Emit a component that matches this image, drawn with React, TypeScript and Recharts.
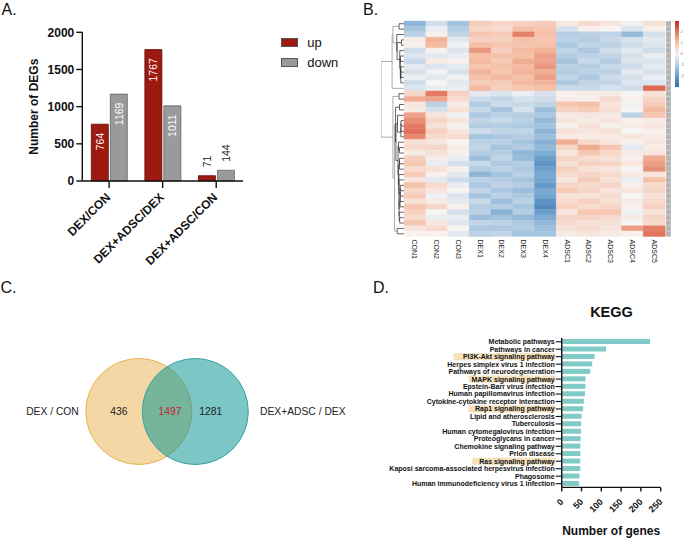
import React from 'react';
import {
  BarChart, Bar, XAxis, YAxis, Cell, LabelList, Legend, Label,
  ScatterChart, Scatter, ReferenceLine,
} from 'recharts';

// ---------------- Panel A data ----------------
const degComparisons = ['DEX/CON', 'DEX+ADSC/DEX', 'DEX+ADSC/CON'];
const degUp = [764, 1767, 71];
const degDown = [1169, 1011, 144];
const degTicks = [0, 500, 1000, 1500, 2000];
const degSeries = ['up', 'down'];

// ---------------- Panel B data (z-scores, rows top -> bottom) ----------------
const heatSamples = ['CON1', 'CON2', 'CON3', 'DEX1', 'DEX2', 'DEX3', 'DEX4', 'ADSC1', 'ADSC2', 'ADSC3', 'ADSC4', 'ADSC5'];
const heatCON1 = [-1.5, -1.2, -0.9, 0.2, 0.1, -0.6, -0.4, -0.7, -0.3, -0.5, -0.2, -0.6, -0.4,
  0.6, 1.3, 0.3, 0.2, 1.4, 1.7, 2.0, 2.1, 1.8, 0.4, 0.5, 0.2,
  0.7, 0.9, 0.5, 0.8, 0.3, 1.0, 0.6, 0.8, 0.4, 0.9, 0.7, 0.5, 0.9, 0.3, 0.1];
const heatCON2 = [-0.6, -0.2, 0.1, 1.2, 1.1, 0.1, -0.3, 0.2, -0.4, -0.1, -0.3, 0.0, -0.2,
  2.0, 1.4, -0.9, -0.5, 0.3, 0.6, 0.4, 0.7, 0.5, 0.3, 0.6, 0.4,
  0.2, -0.2, 0.4, 0.1, -0.3, 0.5, 0.3, -0.1, 0.2, 0.6, 0.0, -0.2, 0.3, 0.5, 0.1];
const heatCON3 = [-1.2, -1.0, -0.8, -0.3, -0.1, -0.4, -0.2, 0.1, -0.3, -0.5, -0.1, -0.3, -0.2,
  0.7, 0.5, 0.2, 0.4, -0.1, 0.3, 0.1, 0.3, 0.5, 0.0, 0.2, 0.1,
  -0.2, -0.5, 0.1, -0.3, -0.6, -0.2, 0.0, -0.4, -0.3, 0.1, -0.5, -0.2, -0.4, 0.0, -0.3];
const heatDEX1 = [0.8, 0.6, 0.9, 0.7, 1.0, 1.6, 1.0, 1.1, 0.9, 1.2, 1.0, 0.8, 1.1,
  -0.3, -0.6, -1.0, -0.7, -1.1, -0.8, -1.0, -0.6, -1.2, -0.9, -0.8, -1.0, -1.3, -0.7, -1.0,
  -1.5, -0.9, -1.1, -0.8, -1.2, -0.7, -1.0, -0.9, -1.3, -0.8, -1.1, -0.9];
const heatDEX2 = [0.6, 0.5, 0.8, 0.7, 0.9, 0.7, 1.0, 0.8, 1.0, 0.9, 1.1, 0.8, 0.7,
  -0.4, -0.8, -0.6, -1.2, -0.9, -0.7, -1.0, -0.8, -1.1, -0.9, -1.2, -1.0, -0.8, -1.1, -0.9,
  -1.2, -1.0, -0.8, -1.1, -0.9, -1.3, -1.0, -1.6, -1.2, -0.9, -1.1, -0.8];
const heatDEX3 = [0.7, 1.0, 1.9, 1.0, 0.9, 1.1, 1.0, 1.3, 1.1, 1.2, 1.0, 1.1, 0.9,
  -0.2, -0.5, -0.7, -0.5, -1.0, -0.9, -1.1, -0.8, -1.0, -1.2, -1.0, -1.5, -1.4, -1.0, -1.1,
  -0.9, -1.2, -1.0, -1.3, -1.1, -0.9, -1.2, -1.0, -1.4, -1.1, -1.0, -1.2];
const heatDEX4 = [0.8, 0.9, 1.0, 0.9, 1.0, 1.2, 1.5, 1.4, 1.6, 1.3, 1.5, 1.2, 1.0,
  -0.5, -0.6, -0.8, -1.3, -1.1, -1.4, -1.2, -1.5, -1.3, -1.6, -1.4, -1.7, -2.0, -2.2, -2.0,
  -1.8, -1.9, -2.1, -1.8, -1.9, -2.2, -2.4, -2.0, -1.7, -1.5, -1.3, -1.2];
const heatADSC1 = [0.2, -0.5, -1.0, -0.9, -1.1, -0.8, -1.0, -1.2, -0.9, -1.0, -0.8, -1.1, -0.7,
  0.1, 0.2, 0.9, 0.7, 0.2, 0.3, 0.1, 0.4, 0.2, 1.3, 0.6, 0.3,
  0.6, 0.4, 0.7, 0.5, 0.3, 0.6, 0.8, 0.4, 0.5, 0.7, 0.3, 0.6, 0.5, 0.4, 0.2];
const heatADSC2 = [0.5, 0.1, -0.9, -1.0, -0.8, -1.1, -0.9, -0.7, -1.0, -0.9, -1.1, -0.8, -0.7,
  0.2, 0.1, 1.0, 0.8, 0.3, 0.2, 0.4, 0.3, 0.2, 0.5, 1.3, 0.9,
  0.5, 0.7, 0.4, 0.6, 0.8, 0.5, 0.6, 0.4, 0.7, 0.5, 0.9, 0.6, 0.4, 0.5, 0.3];
const heatADSC3 = [0.3, 0.0, -0.8, -0.7, -0.9, -0.6, -0.8, -1.0, -0.7, -0.9, -0.6, -0.8, -0.5,
  0.2, 0.5, 0.3, 0.4, 0.2, 0.3, 0.1, 0.4, 0.2, 0.3, 0.9, 0.6,
  0.4, 0.6, 0.3, 0.5, 0.4, 0.6, 0.3, 0.5, 0.4, 0.6, 0.9, 0.5, 0.4, 0.3, 0.2];
const heatADSC4 = [-0.1, -0.4, -1.4, -0.5, -0.6, -0.3, -0.5, -0.4, -0.6, -0.3, -0.5, -0.4, -0.6,
  0.0, 0.1, -0.1, 0.0, -0.9, 0.1, 0.2, 0.0, 0.3, 0.1, -0.3, 0.2,
  0.1, 0.3, 0.0, 0.2, -0.2, 0.1, 0.3, 0.0, 0.2, 0.1, -0.1, 0.2, 0.0, 1.5, 0.1];
const heatADSC5 = [0.4, 0.1, -0.5, -0.3, -0.4, -0.6, -0.2, -0.4, -0.3, -0.5, -0.2, -0.4, 2.2,
  0.4, 0.6, 0.8, 1.1, 0.9, 0.2, 0.3, 0.1, 0.2, 0.3, 0.2, 0.3,
  1.3, 1.5, 1.7, 0.3, 1.0, 0.5, 0.6, 0.4, 0.5, 0.7, 0.4, 0.6, 0.5, 1.9, 2.1];
const heatColumns = [heatCON1, heatCON2, heatCON3, heatDEX1, heatDEX2, heatDEX3, heatDEX4,
  heatADSC1, heatADSC2, heatADSC3, heatADSC4, heatADSC5];
const heatScaleTicks = [-2, -1, 0, 1, 2];
const heatScaleRange: [number, number] = [-3, 3];

// ---------------- Panel C data ----------------
const vennSetNames = ['DEX / CON', 'DEX+ADSC / DEX'];
const vennOnly = [436, 1281];
const vennShared = 1497;

// ---------------- Panel D data ----------------
const keggTerms = [
  'Metabolic pathways', 'Pathways in cancer', 'PI3K-Akt signaling pathway',
  'Herpes simplex virus 1 infection', 'Pathways of neurodegeneration', 'MAPK signaling pathway',
  'Epstein-Barr virus infection', 'Human papillomavirus infection',
  'Cytokine-cytokine receptor interaction', 'Rap1 signaling pathway', 'Lipid and atherosclerosis',
  'Tuberculosis', 'Human cytomegalovirus infection', 'Proteoglycans in cancer',
  'Chemokine signaling pathway', 'Prion disease', 'Ras signaling pathway',
  'Kaposi sarcoma-associated herpesvirus infection', 'Phagosome',
  'Human immunodeficiency virus 1 infection',
];
const keggGenes = [223, 112, 83, 77, 72, 60, 60, 59, 56, 54, 50, 49, 49, 48, 47, 47, 47, 47, 45, 44];
const keggHighlighted = ['PI3K-Akt signaling pathway', 'MAPK signaling pathway', 'Rap1 signaling pathway', 'Ras signaling pathway'];
const keggTicks = [0, 50, 100, 150, 200, 250];

// ---------------- helpers / styles ----------------
const FONT = "'Liberation Sans', Arial, Helvetica, sans-serif";
const AXIS = { stroke: '#111', strokeWidth: 1.4 };

const heatStops: [number, string][] = [
  [-3, '#2e6aad'], [-2, '#6a9fcc'], [-1, '#b4cde3'], [0, '#f7f5f4'],
  [1, '#f6c1a9'], [2, '#e47a62'], [3, '#c22a2c'],
];
const hexToRgb = (h: string) => [1, 3, 5].map((k) => parseInt(h.slice(k, k + 2), 16));
const heatColor = (v: number) => {
  const t = Math.max(heatStops[0][0], Math.min(heatStops[heatStops.length - 1][0], v));
  for (let k = 0; k < heatStops.length - 1; k++) {
    const [a, ca] = heatStops[k];
    const [b, cb] = heatStops[k + 1];
    if (t >= a && t <= b) {
      const f = (t - a) / (b - a);
      const A = hexToRgb(ca), B = hexToRgb(cb);
      const c = A.map((x, i) => Math.round(x + (B[i] - x) * f));
      return `rgb(${c[0]},${c[1]},${c[2]})`;
    }
  }
  return heatStops[3][1];
};

const nRows = heatCON1.length;
const rowKeys = heatCON1.map((_, i) => `r${i}`);
const heatData = heatSamples.map((name) => {
  const o: any = { name };
  rowKeys.forEach((k) => { o[k] = 1; });
  return o;
});
const stripData = [(() => { const o: any = { name: 'genes' }; rowKeys.forEach((k) => { o[k] = 1; }); return o; })()];

// adjacency-constrained average-linkage clustering of heatmap rows -> dendrogram segments
const buildDendrogram = () => {
  const vecs = heatCON1.map((_, i) => heatColumns.map((c) => c[i]));
  const dist = (a: number[], b: number[]) => Math.sqrt(a.reduce((s, v, k) => s + (v - b[k]) ** 2, 0));
  let clusters = vecs.map((_, i) => ({ members: [i], y: i + 0.5, h: 0 }));
  const merges: { ay: number; ah: number; by: number; bh: number; h: number }[] = [];
  while (clusters.length > 1) {
    let best = 0, bestD = Infinity;
    for (let k = 0; k < clusters.length - 1; k++) {
      const A = clusters[k], B = clusters[k + 1];
      let s = 0;
      A.members.forEach((i) => B.members.forEach((j) => { s += dist(vecs[i], vecs[j]); }));
      const avg = s / (A.members.length * B.members.length);
      if (avg < bestD) { bestD = avg; best = k; }
    }
    const A = clusters[best], B = clusters[best + 1];
    const h = Math.max(bestD, A.h, B.h);
    merges.push({ ay: A.y, ah: A.h, by: B.y, bh: B.h, h });
    clusters = [...clusters.slice(0, best), { members: [...A.members, ...B.members], y: (A.y + B.y) / 2, h }, ...clusters.slice(best + 2)];
  }
  const root = clusters[0].h || 1;
  const sc = (v: number) => (v / root) * 10;
  const segs: { x1: number; y1: number; x2: number; y2: number }[] = [];
  merges.forEach((m) => {
    segs.push({ x1: sc(m.ah), y1: m.ay, x2: sc(m.h), y2: m.ay });
    segs.push({ x1: sc(m.h), y1: m.ay, x2: sc(m.h), y2: m.by });
    segs.push({ x1: sc(m.bh), y1: m.by, x2: sc(m.h), y2: m.by });
  });
  return segs;
};
const dendroSegs = buildDendrogram();
const leafPoints = heatCON1.map((_, i) => ({ h: 0, y: i + 0.5 }));

const degData = degComparisons.map((name, i) => ({ name, up: degUp[i], down: degDown[i] }));
const keggData = keggTerms.map((term, i) => ({ term, genes: keggGenes[i] }));

const AngledTick = (props: any) => {
  const { x, y, payload, fontSize, dx = 2, dy = 10 } = props;
  const ax = Number(x) + dx, ay = Number(y) + dy;
  return (
    <text x={ax} y={ay} textAnchor="end" fontSize={fontSize} fontWeight={700} fill="#111"
      transform={`rotate(-45, ${ax}, ${ay})`}>{payload.value}</text>
  );
};

const DegLabel = (props: any) => {
  const { x, y, width, value } = props;
  const inside = value > 500;
  const cx = Number(x) + Number(width) / 2;
  const ty = inside ? Number(y) + 8.5 : Number(y) - 8.5;
  return (
    <text x={cx} y={ty} transform={`rotate(-90, ${cx}, ${ty})`} textAnchor={inside ? 'end' : 'start'}
      dominantBaseline="central" fontSize={10.5} fill={inside ? '#ffffff' : '#222'}>{value}</text>
  );
};

const DegLegend = (props: any) => {
  const items = [...(props.payload || [])].sort((a: any, b: any) => degSeries.indexOf(a.value) - degSeries.indexOf(b.value));
  return (
    <div style={{ fontFamily: FONT }}>
      {items.map((p: any) => (
        <div key={p.value} style={{ display: 'flex', alignItems: 'center', height: 20 }}>
          <span style={{ width: 17, height: 9, background: p.color, border: '1px solid #555', boxSizing: 'border-box', display: 'inline-block', marginRight: 9.5 }} />
          <span style={{ fontSize: 13, color: '#111', lineHeight: '20px' }}>{p.value}</span>
        </div>
      ))}
    </div>
  );
};

const SampleTick = (props: any) => {
  const { x, y, payload } = props;
  const ax = Number(x) - 2.5, ay = Number(y) + 3;
  return (
    <text x={ax} y={ay} textAnchor="start" fontSize={7} fill="#222"
      transform={`rotate(90, ${ax}, ${ay})`}>{payload.value}</text>
  );
};

const KeggTick = (props: any) => {
  const { x, y, payload } = props;
  const label: string = payload.value;
  const hl = keggHighlighted.includes(label);
  const w = label.length * 7 * 0.54 + 3;
  return (
    <g>
      {hl && <rect x={Number(x) - w} y={Number(y) - 3.6} width={w + 1} height={7.2} fill="#f6e1bd" />}
      <text x={x} y={y} dy="0.35em" textAnchor="end" fontSize={7} fontWeight={700} fill="#111">{label}</text>
    </g>
  );
};

const VennCircle = (props: any) => {
  const { cx, cy, payload } = props;
  const r = 53;
  const left = payload.side === 'left';
  return (
    <g>
      <circle cx={cx} cy={cy} r={r} fill={payload.fill} fillOpacity={payload.opacity} stroke={payload.stroke} strokeWidth={1} />
      <text x={left ? cx - r - 7 : cx + r + 11.7} y={cy} textAnchor={left ? 'end' : 'start'} dominantBaseline="central" fontSize={10.3} fill="#222">{payload.name}</text>
      <text x={left ? cx - 20 : cx + 15.5} y={cy} textAnchor="middle" dominantBaseline="central" fontSize={10.3} fill="#222">{payload.only}</text>
    </g>
  );
};
const VennShared = (props: any) => {
  const { cx, cy, payload } = props;
  return <text x={cx + 3} y={cy} textAnchor="middle" dominantBaseline="central" fontSize={10.3} fill="#c0262c">{payload.count}</text>;
};

const vennCircles = [
  { x: 0, y: 1, side: 'left', name: vennSetNames[0], only: vennOnly[0], fill: '#e8b04a', opacity: 0.5, stroke: '#ebb24f' },
  { x: 1, y: 1, side: 'right', name: vennSetNames[1], only: vennOnly[1], fill: '#119795', opacity: 0.55, stroke: '#35a3a0' },
];
const vennSharedPoint = [{ x: 0.5, y: 1, count: vennShared }];

export default function App() {
  return (
    <div style={{ position: 'absolute', left: 0, top: 0, width: 685, height: 540, background: '#fff', fontFamily: FONT, overflow: 'hidden' }}>
      {/* Panel A */}
      <div style={{ position: 'absolute', left: 0, top: 0 }}>
        <BarChart width={340} height={280} data={degData} margin={{ top: 32.3, right: 97, bottom: 29, left: 0 }} barSize={17} barGap={2}>
          <XAxis dataKey="name" height={70} interval={0} tickSize={7} tickMargin={0}
            tick={<AngledTick fontSize={12} dx={2} dy={10} />} axisLine={AXIS} tickLine={AXIS} />
          <YAxis width={82.3} domain={[0, 2000]} ticks={degTicks} tickSize={6} tickMargin={2}
            tick={{ fontSize: 12, fontWeight: 700, fill: '#111' }} axisLine={AXIS} tickLine={AXIS}>
            <Label content={(p: any) => {
              const vb = p.viewBox || {};
              const lx = 33.8, ly = (vb.y ?? 32) + (vb.height ?? 148) / 2;
              return <text x={lx} y={ly} transform={`rotate(-90, ${lx}, ${ly})`} textAnchor="middle" dominantBaseline="central" fontSize={12} fontWeight={700} fill="#111">Number of DEGs</text>;
            }} />
          </YAxis>
          <Legend layout="vertical" align="center" verticalAlign="middle" content={<DegLegend />}
            wrapperStyle={{ left: 280.7, top: 32.8, width: 80, height: 40 }} />
          <Bar dataKey="up" name="up" fill="#9c1a0f" stroke="#5e0d06" strokeWidth={0.8} isAnimationActive={false}>
            <LabelList dataKey="up" content={<DegLabel />} />
          </Bar>
          <Bar dataKey="down" name="down" fill="#9a9a9a" stroke="#666" strokeWidth={0.8} isAnimationActive={false}>
            <LabelList dataKey="down" content={<DegLabel />} />
          </Bar>
        </BarChart>
      </div>

      {/* Panel B: dendrogram */}
      <div style={{ position: 'absolute', left: 381, top: 21 }}>
        <ScatterChart width={23} height={215.5} margin={{ top: 0, right: 0, bottom: 0, left: 0 }}>
          <XAxis type="number" dataKey="h" domain={[0, 10]} reversed hide />
          <YAxis type="number" dataKey="y" domain={[0, nRows]} reversed hide />
          <Scatter data={leafPoints} isAnimationActive={false} shape={() => <g />} />
          {dendroSegs.map((s, i) => (
            <ReferenceLine key={i} segment={[{ x: s.x1, y: s.y1 }, { x: s.x2, y: s.y2 }]}
              stroke={s.x2 > 4 ? '#8a8a8a' : '#222'} strokeWidth={0.7} ifOverflow="visible" />
          ))}
        </ScatterChart>
      </div>

      {/* Panel B: heatmap */}
      <div style={{ position: 'absolute', left: 400, top: 0 }}>
        <BarChart width={270} height={280} data={heatData} margin={{ top: 21, right: 5, bottom: 3.5, left: 4 }} barCategoryGap={0} barGap={0}>
          <XAxis dataKey="name" height={40} interval={0} tickSize={0} tickMargin={0} axisLine={false} tickLine={false} tick={<SampleTick />} />
          <YAxis type="number" domain={[0, nRows]} reversed hide />
          {rowKeys.map((k, i) => (
            <Bar key={k} dataKey={k} stackId="h" isAnimationActive={false}>
              {heatColumns.map((col, c) => (
                <Cell key={c} fill={heatColor(col[i])} stroke={heatColor(col[i])} strokeWidth={0.4} />
              ))}
            </Bar>
          ))}
        </BarChart>
      </div>

      {/* Panel B: gene-label strip */}
      <div style={{ position: 'absolute', left: 666, top: 21 }}>
        <BarChart width={5} height={215.5} data={stripData} margin={{ top: 0, right: 0, bottom: 0, left: 0 }} barCategoryGap={0}>
          <XAxis dataKey="name" hide />
          <YAxis type="number" domain={[0, nRows]} reversed hide />
          {rowKeys.map((k) => (
            <Bar key={k} dataKey={k} stackId="s" fill="#b3b3b3" stroke="#d2d2d2" strokeWidth={0.6} isAnimationActive={false} />
          ))}
        </BarChart>
      </div>

      {/* Panel B: colour scale */}
      <div style={{ position: 'absolute', left: 672, top: 21 }}>
        <BarChart width={13} height={66} data={[{ name: 'scale', range: heatScaleRange }]} margin={{ top: 0, right: 0, bottom: 0, left: 3 }} barCategoryGap={0}>
          <defs>
            <linearGradient id="heatGrad" x1="0" y1="0" x2="0" y2="1">
              {heatStops.slice().reverse().map(([, c], i) => (
                <stop key={i} offset={`${(i / (heatStops.length - 1)) * 100}%`} stopColor={c} />
              ))}
            </linearGradient>
          </defs>
          <XAxis dataKey="name" hide />
          <YAxis orientation="right" width={6} domain={heatScaleRange} ticks={heatScaleTicks} axisLine={false} tickLine={false}
            tickSize={0} tickMargin={1.5} tick={{ fontSize: 3.8, fill: '#777' }} />
          <Bar dataKey="range" fill="url(#heatGrad)" isAnimationActive={false} />
        </BarChart>
      </div>

      {/* Panel C: Venn */}
      <div style={{ position: 'absolute', left: 0, top: 290 }}>
        <ScatterChart width={400} height={245} margin={{ top: 21.5, right: 91.7, bottom: 23.5, left: 25.8 }}>
          <XAxis type="number" dataKey="x" domain={[-2, 3]} hide />
          <YAxis type="number" dataKey="y" domain={[0, 2]} hide />
          <Scatter data={vennCircles} shape={<VennCircle />} isAnimationActive={false} />
          <Scatter data={vennSharedPoint} shape={<VennShared />} isAnimationActive={false} />
        </ScatterChart>
      </div>

      {/* Panel D: KEGG */}
      <div style={{ position: 'absolute', left: 380, top: 290 }}>
        <BarChart width={305} height={250} data={keggData} layout="vertical" margin={{ top: 48, right: 24.3, bottom: 7.6, left: 0 }}>
          <XAxis type="number" domain={[0, 250]} ticks={keggTicks} interval={0} height={45} tickSize={4} tickMargin={0}
            tick={<AngledTick fontSize={9} dx={2.3} dy={11} />} axisLine={AXIS} tickLine={AXIS}>
            <Label content={(p: any) => {
              const vb = p.viewBox || {};
              const lx = (vb.x ?? 182) + (vb.width ?? 99) / 2;
              const ly = (vb.y ?? 197) + 47.6;
              return <text x={lx} y={ly} textAnchor="middle" fontSize={12} fontWeight={700} fill="#111">Number of genes</text>;
            }} />
          </XAxis>
          <YAxis type="category" dataKey="term" width={181.7} interval={0} tickSize={6} tickMargin={1}
            tick={<KeggTick />} axisLine={AXIS} tickLine={{ stroke: '#111', strokeWidth: 1.1 }} />
          <Bar dataKey="genes" fill="#80cbc8" barSize={5} isAnimationActive={false} />
        </BarChart>
      </div>

      {/* Panel letters and titles */}
      <svg width={685} height={540} style={{ position: 'absolute', left: 0, top: 0, pointerEvents: 'none' }}>
        <text x={1.5} y={15} fontSize={16} fill="#111">A.</text>
        <text x={363} y={15} fontSize={16} fill="#111">B.</text>
        <text x={0.5} y={293} fontSize={16} fill="#111">C.</text>
        <text x={373} y={293} fontSize={16} fill="#111">D.</text>
        <text x={611.5} y={317} fontSize={14.5} fontWeight={700} textAnchor="middle" fill="#111">KEGG</text>
      </svg>
    </div>
  );
}
